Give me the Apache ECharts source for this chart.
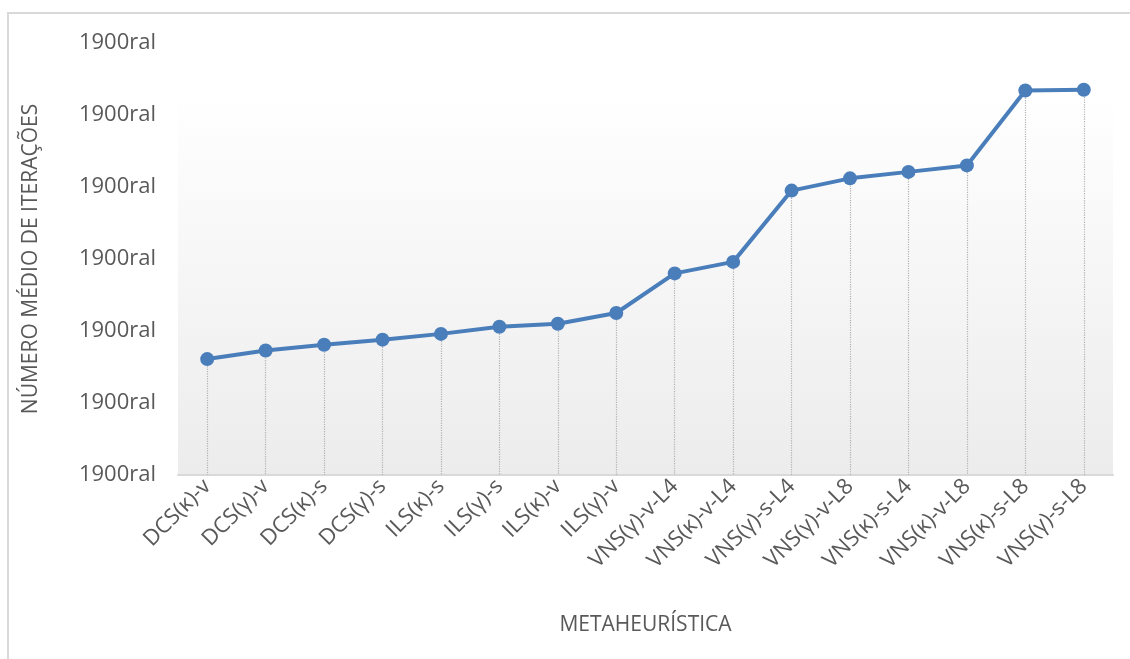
<!DOCTYPE html>
<html>
<head>
<meta charset="utf-8">
<script src="https://cdn.jsdelivr.net/npm/echarts@6/dist/echarts.min.js"></script>
<style>
  html, body { margin: 0; padding: 0; background: #fff; }
  #chart { width: 1130px; height: 659px; }
</style>
</head>
<body>
<div id="chart"></div>
<script>
// categorias (metaheurísticas)
var categories = [
  'DCS(κ)-v', 'DCS(γ)-v', 'DCS(κ)-s', 'DCS(γ)-s', 'ILS(κ)-s', 'ILS(γ)-s', 'ILS(κ)-v', 'ILS(γ)-v',
  'VNS(γ)-v-L4', 'VNS(κ)-v-L4', 'VNS(γ)-s-L4', 'VNS(γ)-v-L8', 'VNS(κ)-s-L4', 'VNS(κ)-v-L8',
  'VNS(κ)-s-L8', 'VNS(γ)-s-L8'
]
// número médio de iterações (escala relativa)
var iteracoes = [1.61, 1.73, 1.81, 1.88, 1.96, 2.06, 2.10, 2.25, 2.80, 2.96, 3.95, 4.12, 4.21, 4.30, 5.34, 5.35]
// rótulos do eixo y (todos iguais no original)
var yTickLabel = '1900ral'

var myChart = echarts.init(document.getElementById('chart'))

var dropLines = iteracoes.map(function (v, i) {
  return [{ coord: [i, v] }, { coord: [i, 0] }]
})

var option = {
  backgroundColor: '#fff',
  textStyle: { fontFamily: 'Open Sans' },
  graphic: [
    {
      type: 'rect',
      z: -10,
      shape: { x: 8, y: 13, width: 1140, height: 660 },
      style: { fill: '#fff', stroke: '#d9d9d9', lineWidth: 2 }
    },
    {
      type: 'rect',
      z: -5,
      shape: { x: 178, y: 92, width: 935, height: 383 },
      style: {
        fill: new echarts.graphic.LinearGradient(0, 0, 0, 1, [
          { offset: 0, color: '#ffffff' },
          { offset: 1, color: '#ececec' }
        ])
      }
    }
  ],
  grid: {
    left: 178,
    right: 17,
    top: 43,
    bottom: 184
  },
  xAxis: {
    type: 'category',
    data: categories,
    name: 'METAHEURÍSTICA',
    nameLocation: 'middle',
    nameGap: 140,
    nameTextStyle: { fontSize: 21, color: '#595959' },
    axisLine: { show: true, lineStyle: { color: '#d9d9d9', width: 2 } },
    axisTick: { show: false },
    axisLabel: {
      rotate: 45,
      interval: 0,
      fontSize: 22,
      color: '#595959',
      margin: 8
    }
  },
  yAxis: {
    type: 'value',
    min: 0,
    max: 6,
    interval: 1,
    name: 'NÚMERO MÉDIO DE ITERAÇÕES',
    nameLocation: 'middle',
    nameGap: 136,
    nameTextStyle: { fontSize: 21, color: '#595959' },
    axisLine: { show: false },
    axisTick: { show: false },
    splitLine: { show: false },
    axisLabel: {
      fontSize: 22,
      color: '#595959',
      margin: 22,
      formatter: function () { return yTickLabel }
    }
  },
  series: [{
    name: 'iterações',
    type: 'line',
    data: iteracoes,
    symbol: 'circle',
    symbolSize: 14,
    lineStyle: { color: '#4a7ebb', width: 4 },
    itemStyle: { color: '#4a7ebb' },
    z: 5,
    markLine: {
      silent: true,
      symbol: ['none', 'none'],
      label: { show: false },
      lineStyle: { color: '#b3b3b3', type: 'dotted', width: 1.2 },
      z: 2,
      data: dropLines
    }
  }]
}
myChart.setOption(option)
</script>
</body>
</html>
